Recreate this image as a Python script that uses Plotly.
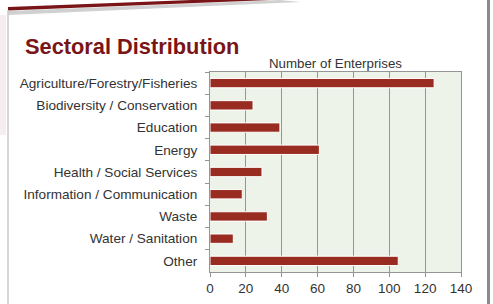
import plotly.graph_objects as go

categories = ["Agriculture/Forestry/Fisheries", "Biodiversity / Conservation", "Education",
              "Energy", "Health / Social Services", "Information / Communication",
              "Waste", "Water / Sanitation", "Other"]
enterprises = [125, 24, 39, 61, 29, 18, 32, 13, 105]
x_ticks = [0, 20, 40, 60, 80, 100, 120, 140]

W, H = 493, 304
L, R, T, B = 210, 32, 72, 32
pw, ph = W - L - R, H - T - B

def px(x):
    return (x - L) / pw

def py(y):
    return (H - B - y) / ph

fig = go.Figure()
fig.add_trace(go.Bar(
    y=categories, x=enterprises, orientation="h",
    marker=dict(color="#992C20", line=dict(color="#ffffff", width=1)),
    width=0.42,
))

shapes = [
    dict(type="path", xref="paper", yref="paper",
         path=f"M {px(8)},{py(11)} L {px(280)},{py(0)} L {px(300)},{py(2)} L {px(8)},{py(15)} Z",
         fillcolor="rgba(120,120,120,0.35)", line=dict(width=0), layer="above"),
    dict(type="path", xref="paper", yref="paper",
         path=f"M {px(8)},{py(7)} L {px(270)},{py(-3)} L {px(270)},{py(0)} L {px(8)},{py(10.5)} Z",
         fillcolor="#7A1517", line=dict(width=0), layer="above"),
    dict(type="rect", xref="paper", yref="paper", x0=px(0), x1=px(6), y0=py(15), y1=py(135),
         fillcolor="#f6eeee", line=dict(width=0)),
    dict(type="line", xref="paper", yref="paper", x0=px(8), x1=px(8), y0=py(10), y1=py(304),
         line=dict(color="#c8c8c8", width=1.5)),
    dict(type="rect", xref="paper", yref="paper", x0=px(487), x1=px(490), y0=py(0), y1=py(304),
         fillcolor="#8a8a8a", line=dict(width=0)),
]

fig.update_layout(
    width=W, height=H,
    margin=dict(l=L, r=R, t=T, b=B, autoexpand=False),
    paper_bgcolor="#ffffff",
    plot_bgcolor="#EEF3E9",
    showlegend=False,
    font=dict(family="Liberation Sans, Arial, sans-serif", color="#333333", size=13),
    shapes=shapes,
    annotations=[
        dict(text="<b>Sectoral Distribution</b>", xref="paper", yref="paper",
             x=px(23), y=py(46), xanchor="left", yanchor="middle", showarrow=False,
             font=dict(size=21.8, color="#7A1517", family="Liberation Sans, Arial, sans-serif")),
        dict(text="Number of Enterprises", xref="paper", yref="paper",
             x=0.5, y=py(64), xanchor="center", yanchor="middle", showarrow=False,
             font=dict(size=13.3, color="#333333")),
    ],
)
fig.update_xaxes(
    range=[0, 140], tickvals=x_ticks, showgrid=True, gridcolor="#959595", gridwidth=1,
    showline=True, linecolor="#959595", mirror=True, ticks="outside", ticklen=4,
    tickcolor="#959595", tickfont=dict(size=13.5, color="#333333"), zeroline=False,
    automargin=False,
)
fig.update_yaxes(
    autorange="reversed", showline=True, linecolor="#959595", mirror=True,
    ticks="outside", ticklen=4, tickcolor="#959595", tickson="boundaries",
    tickfont=dict(size=13.6, color="#333333"), ticklabelstandoff=9, automargin=False,
)
fig.write_html("out.html", post_script="document.body.style.margin='0';",
               config={"displayModeBar": False})
